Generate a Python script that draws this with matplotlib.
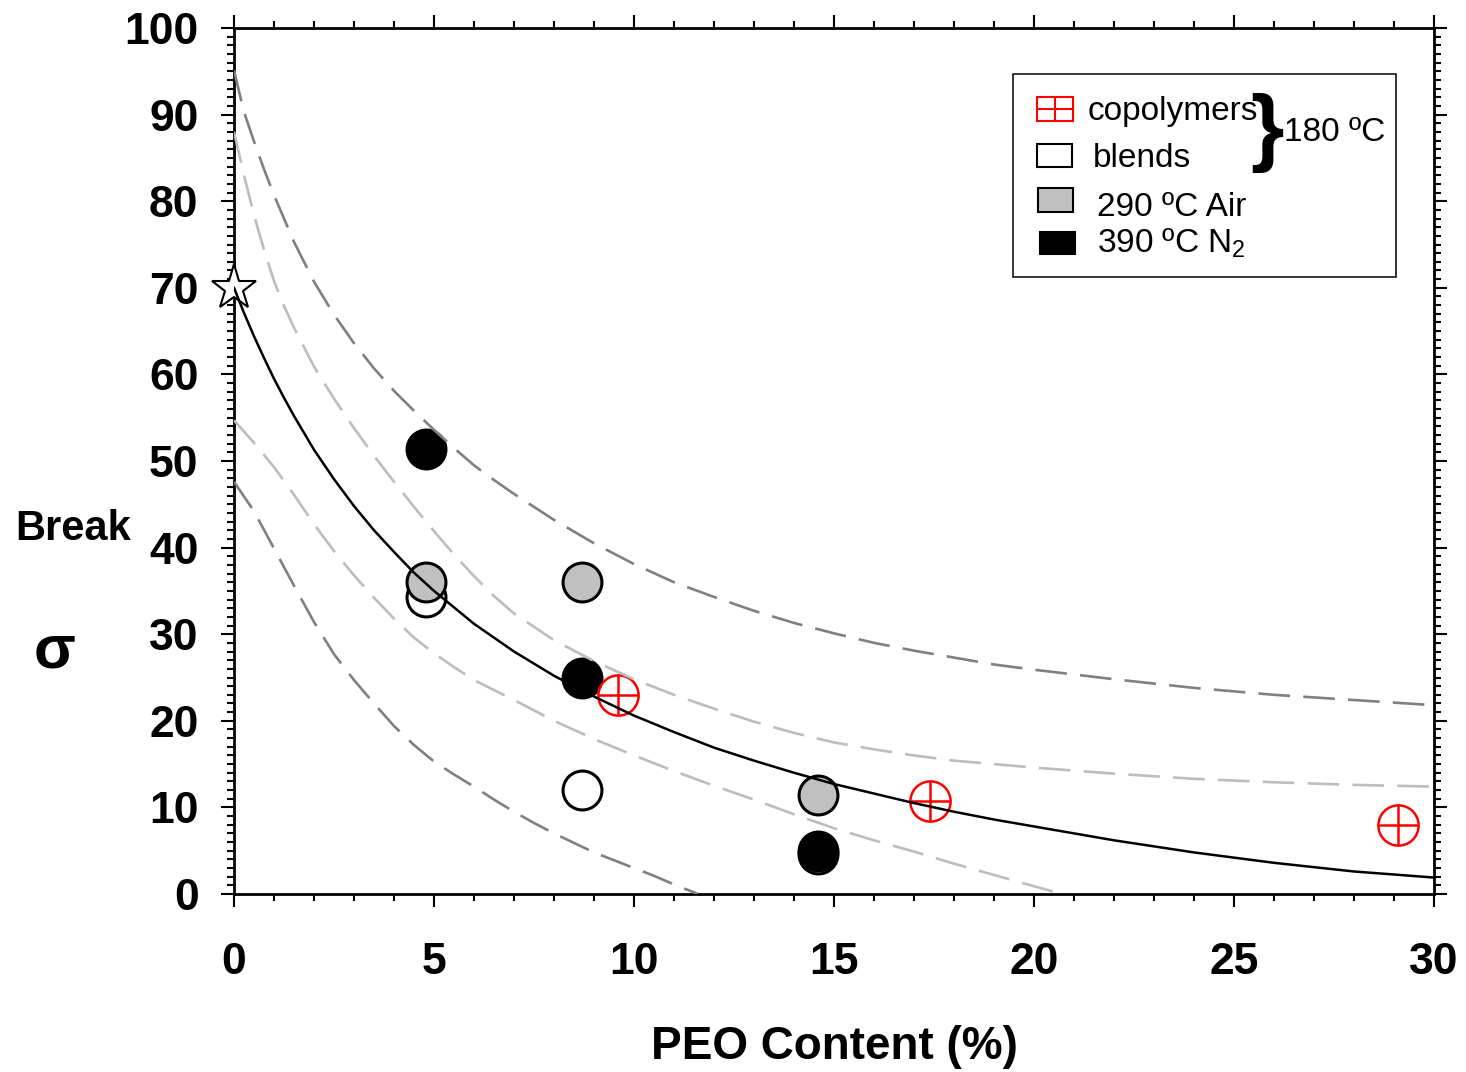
import matplotlib
matplotlib.use('Agg')
import matplotlib.pyplot as plt
from matplotlib.patches import Rectangle
from matplotlib.lines import Line2D

plt.rcParams['font.family'] = ['Liberation Sans', 'DejaVu Sans']
plt.rcParams['mathtext.fontset'] = 'custom'
plt.rcParams['mathtext.rm'] = 'Liberation Sans'

# data
star_x = [0]
star_y = [70]
blend_x = [4.8, 8.7, 14.6]
blend_y = [34.3, 12.0, 4.6]
air_x = [4.8, 8.7, 14.6]
air_y = [36.0, 36.0, 11.4]
n2_x = [4.8, 8.7, 14.6]
n2_y = [51.4, 25.0, 5.0]
copo_x = [9.6, 17.4, 29.1]
copo_y = [23.0, 10.7, 8.0]

# fitted curve and bands
fit_x = [0, 0.25, 0.5, 0.75, 1, 1.25, 1.5, 2, 2.5, 3, 3.5, 4, 4.5, 5, 6, 7, 8, 9, 10,
         11, 12, 13, 14, 15, 16, 17, 18, 19, 20, 22, 24, 26, 28, 30]
fit_y = [70.0, 67.1, 64.4, 61.9, 59.5, 57.3, 55.2, 51.3, 47.9, 44.8, 42.0, 39.5, 37.1,
         35.0, 31.2, 28.0, 25.2, 22.8, 20.6, 18.7, 16.9, 15.4, 14.0, 12.7, 11.6, 10.5,
         9.5, 8.6, 7.8, 6.2, 4.8, 3.6, 2.6, 1.9]
pred_hi_x = [0, 0.25, 0.5, 0.75, 1, 1.25, 1.5, 2, 2.5, 3, 3.5, 4, 4.5, 5, 5.5, 6, 6.5, 7,
             8, 9, 10, 11, 12, 13, 14, 15, 16, 17, 18, 19, 20, 22, 24, 26, 28, 30]
pred_hi_y = [95.1, 90.3, 86.9, 83.7, 80.7, 78.0, 75.3, 70.7, 66.9, 63.6, 60.7, 58.1, 55.8,
             53.6, 51.5, 49.5, 47.8, 46.2, 43.2, 40.5, 38.1, 36.0, 34.3, 32.7, 31.3, 30.1,
             29.0, 28.1, 27.3, 26.5, 25.9, 24.8, 23.8, 23.0, 22.4, 21.8]
conf_hi_x = [0, 0.25, 0.5, 0.75, 1, 1.25, 1.5, 2, 2.5, 3, 3.5, 4, 4.5, 5, 5.5, 6, 6.5, 7,
             8, 9, 10, 11, 12, 13, 14, 15, 16, 17, 18, 19, 20, 22, 24, 26, 28, 30]
conf_hi_y = [88.0, 83.0, 78.4, 74.4, 70.8, 67.9, 65.4, 60.9, 57.2, 53.8, 50.6, 47.6, 44.7,
             41.9, 39.2, 36.7, 34.4, 32.4, 29.3, 26.9, 24.8, 23.0, 21.4, 19.9, 18.6, 17.5,
             16.7, 16.0, 15.4, 15.0, 14.6, 13.9, 13.3, 12.9, 12.6, 12.4]
conf_lo_x = [0, 0.5, 1, 1.5, 2, 2.5, 3, 3.5, 4, 4.5, 5, 5.5, 6, 7, 8, 9, 10, 11, 12, 13,
             14, 15, 16, 17, 18, 19, 20, 20.7]
conf_lo_y = [54.7, 52.1, 49.3, 46.1, 42.7, 39.6, 36.8, 34.2, 31.8, 29.6, 27.8, 26.2, 24.7,
             22.4, 20.0, 17.9, 16.0, 14.2, 12.5, 10.9, 9.2, 7.6, 6.2, 4.9, 3.5, 2.2, 0.9, 0.0]
pred_lo_x = [0, 0.5, 1, 1.5, 2, 2.5, 3, 3.5, 4, 4.5, 5, 5.5, 6, 6.5, 7, 7.5, 8, 8.5, 9,
             9.5, 10, 10.5, 11, 11.6]
pred_lo_y = [47.6, 44.2, 39.9, 35.6, 31.4, 27.7, 24.7, 22.0, 19.4, 17.2, 15.3, 13.8, 12.4,
             10.9, 9.5, 8.2, 7.0, 5.9, 4.8, 3.9, 3.0, 2.1, 1.1, 0.0]

W, H = 1466, 1072
fig = plt.figure(figsize=(W / 100, H / 100), dpi=100)
ax = fig.add_axes([234 / W, 1 - 894 / H, 1200 / W, 866 / H])

def fx(px):
    return px / W

def fy(py):
    return 1 - py / H

# markers
ms = 28
ax.plot(blend_x, blend_y, 'o', ms=ms, mfc='white', mec='black', mew=2.2, zorder=2)
ax.plot(air_x, air_y, 'o', ms=ms, mfc='#c0c0c0', mec='black', mew=2.2, zorder=3)
ax.plot(n2_x, n2_y, 'o', ms=ms, mfc='black', mec='black', mew=2.2, zorder=4)
ax.plot(copo_x, copo_y, 'o', ms=29, mfc='none', mec='red', mew=1.8, zorder=5)
ax.plot(copo_x, copo_y, '+', ms=29, mec='red', mew=1.8, zorder=5)
ax.plot(star_x, star_y, '*', ms=34, mfc='white', mec='black', mew=1.5, zorder=5, clip_on=False)

# lines over the markers
dash = (12, 5)
ax.plot(pred_hi_x, pred_hi_y, color='#808080', lw=1.9, dashes=dash, zorder=6)
ax.plot(pred_lo_x, pred_lo_y, color='#808080', lw=1.9, dashes=dash, zorder=6)
ax.plot(conf_hi_x, conf_hi_y, color='#bdbdbd', lw=1.9, dashes=dash, zorder=6)
ax.plot(conf_lo_x, conf_lo_y, color='#bdbdbd', lw=1.9, dashes=dash, zorder=6)
ax.plot(fit_x, fit_y, color='black', lw=1.8, zorder=7)

ax.set_xlim(0, 30)
ax.set_ylim(0, 100)
ax.set_xticks(range(0, 31, 5))
ax.set_xticks(range(0, 31, 1), minor=True)
ax.set_yticks(range(0, 101, 10))
ax.set_yticks(range(0, 101, 1), minor=True)
for s in ax.spines.values():
    s.set_linewidth(2.0)
ax.tick_params(which='both', direction='out', top=True, right=True, width=1.5)
ax.tick_params(which='major', length=9.5)
ax.tick_params(which='minor', length=5)
ax.tick_params(axis='x', which='major', pad=25)
ax.tick_params(axis='y', which='major', pad=16)
for lab in ax.get_xticklabels() + ax.get_yticklabels():
    lab.set_fontsize(32)
    lab.set_fontweight('bold')

ax.set_xlabel('PEO Content (%)', fontsize=33, fontweight='bold', labelpad=30)

# garbled y label as it appears in the source
fig.text(fx(55), fy(652), 'σ', fontsize=44, fontweight='bold', ha='center', va='center')
fig.text(fx(15), fy(540), 'Break', fontsize=30, fontweight='bold', ha='left', va='baseline')

# legend drawn by hand
fig.add_artist(Rectangle((fx(1013), fy(277)), fx(1396) - fx(1013), fy(74) - fy(277),
                         transform=fig.transFigure, fill=False, ec='black', lw=1.1))

def box(x0, y0, x1, y1, fc, ec):
    fig.add_artist(Rectangle((fx(x0), fy(y1)), fx(x1) - fx(x0), fy(y0) - fy(y1),
                             transform=fig.transFigure, fc=fc, ec=ec, lw=1.5))

box(1037, 97, 1073, 121, 'none', 'red')
fig.add_artist(Line2D([fx(1055), fx(1055)], [fy(97), fy(121)], transform=fig.transFigure, color='red', lw=1.5))
fig.add_artist(Line2D([fx(1037), fx(1073)], [fy(109), fy(109)], transform=fig.transFigure, color='red', lw=1.5))
box(1037, 144, 1072, 167, 'white', 'black')
box(1038, 188, 1073, 212, '#c0c0c0', 'black')
box(1040, 232, 1075, 254, 'black', 'black')

fs = 24
fig.text(fx(1088), fy(120), 'copolymers', fontsize=fs, va='baseline')
fig.text(fx(1093), fy(167), 'blends', fontsize=fs, va='baseline')
fig.text(fx(1097), fy(216), '290 ºC Air', fontsize=fs, va='baseline')
fig.text(fx(1097), fy(252), '390 ºC N$_\\mathregular{2}$', fontsize=fs, va='baseline')
fig.text(fx(1267), fy(133), '}', fontsize=62, fontweight='bold', ha='center', va='center')
fig.text(fx(1284), fy(141), '180 ºC', fontsize=fs, va='baseline')

fig.savefig('out.png', dpi=100, facecolor='white')
